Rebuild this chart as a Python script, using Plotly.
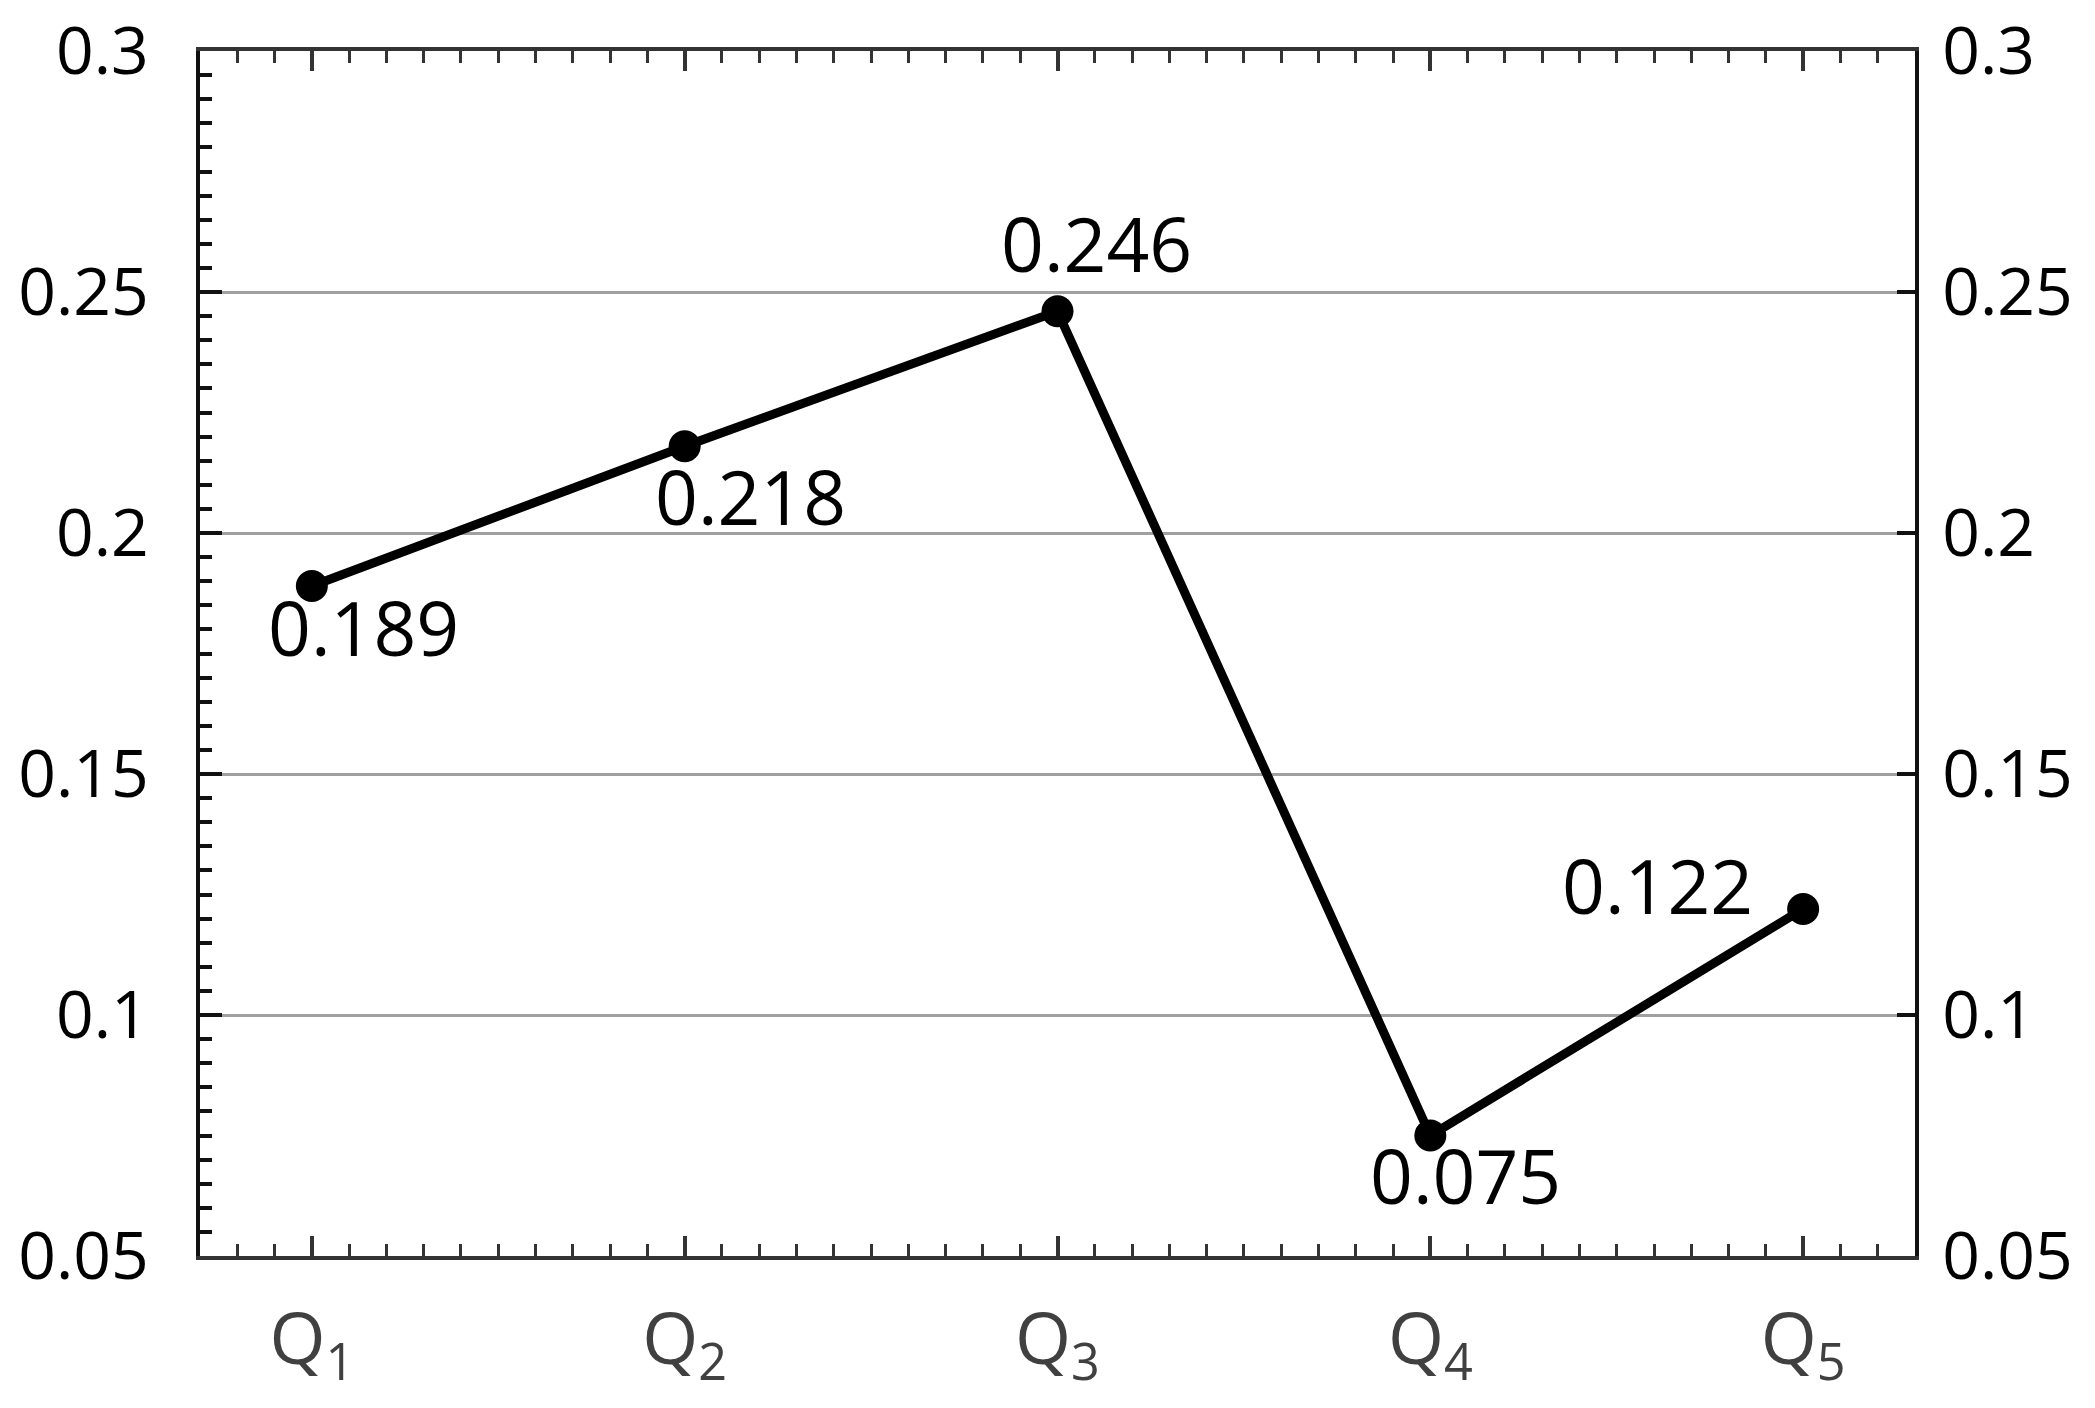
import plotly.graph_objects as go

# ------------------------------------------------------------
# DATA
# ------------------------------------------------------------
quarters = ["Q<sub>1</sub>", "Q<sub>2</sub>", "Q<sub>3</sub>", "Q<sub>4</sub>", "Q<sub>5</sub>"]
values = [0.189, 0.218, 0.246, 0.075, 0.122]
y_ticks = [0.05, 0.1, 0.15, 0.2, 0.25, 0.3]
y_ticktext = ["0.05", "0.1", "0.15", "0.2", "0.25", "0.3"]

# label offsets (px) around each point
label_dx = [52, 66, 39, 35, -146]
label_dy = [-41, -50, 68, -39, 24]

x_pos = list(range(1, len(quarters) + 1))

FONT = "Open Sans"

fig = go.Figure()

fig.add_trace(go.Scatter(
    x=x_pos, y=values,
    mode="lines+markers",
    line=dict(color="black", width=9),
    marker=dict(color="black", size=32),
    showlegend=False,
    hoverinfo="skip",
))

# invisible trace so the right axis gets drawn
fig.add_trace(go.Scatter(
    x=x_pos, y=values, yaxis="y2",
    mode="markers", marker=dict(opacity=0),
    showlegend=False, hoverinfo="skip",
))

for xp, v, dx, dy in zip(x_pos, values, label_dx, label_dy):
    fig.add_annotation(
        x=xp, y=v, text=f"{v:.3f}",
        showarrow=False, xanchor="center", yanchor="middle",
        xshift=dx, yshift=dy,
        font=dict(family=FONT, size=75, color="black"),
    )

fig.update_layout(
    width=2095, height=1408,
    paper_bgcolor="white", plot_bgcolor="white",
    margin=dict(l=192, r=188, t=43, b=160),
    font=dict(family=FONT),
    xaxis=dict(
        range=[0.7, 5.3], automargin=False,
        tickvals=x_pos, ticktext=quarters,
        ticks="inside", ticklen=20, tickwidth=4, tickcolor="#333",
        showline=True, linecolor="#333", linewidth=4, mirror="ticks",
        showgrid=False, zeroline=False,
        tickfont=dict(family=FONT, size=72, color="#404040"),
        ticklabelstandoff=18,
        minor=dict(dtick=0.1, tick0=0, ticks="inside", ticklen=12,
                   tickwidth=3, tickcolor="#333", showgrid=False),
    ),
    yaxis=dict(
        range=[0.05, 0.3], automargin=False,
        tickvals=y_ticks, ticktext=y_ticktext,
        ticks="inside", ticklen=22, tickwidth=4, tickcolor="#111",
        showline=True, linecolor="#111", linewidth=4,
        showgrid=True, gridcolor="#a0a0a0", gridwidth=3,
        zeroline=False,
        tickfont=dict(family=FONT, size=66, color="black"),
        ticklabelstandoff=34, ticklabeloverflow="allow",
        minor=dict(dtick=0.005, tick0=0.05, ticks="inside", ticklen=12,
                   tickwidth=4, tickcolor="#111", showgrid=False),
    ),
    yaxis2=dict(
        range=[0.05, 0.3], overlaying="y", side="right", anchor="x",
        automargin=False,
        tickvals=y_ticks, ticktext=y_ticktext,
        ticks="inside", ticklen=18, tickwidth=4, tickcolor="#111",
        showline=True, linecolor="#111", linewidth=4,
        showgrid=False, zeroline=False,
        tickfont=dict(family=FONT, size=66, color="black"),
        ticklabelstandoff=10, ticklabeloverflow="allow",
    ),
)

fig.write_html("out.html")
